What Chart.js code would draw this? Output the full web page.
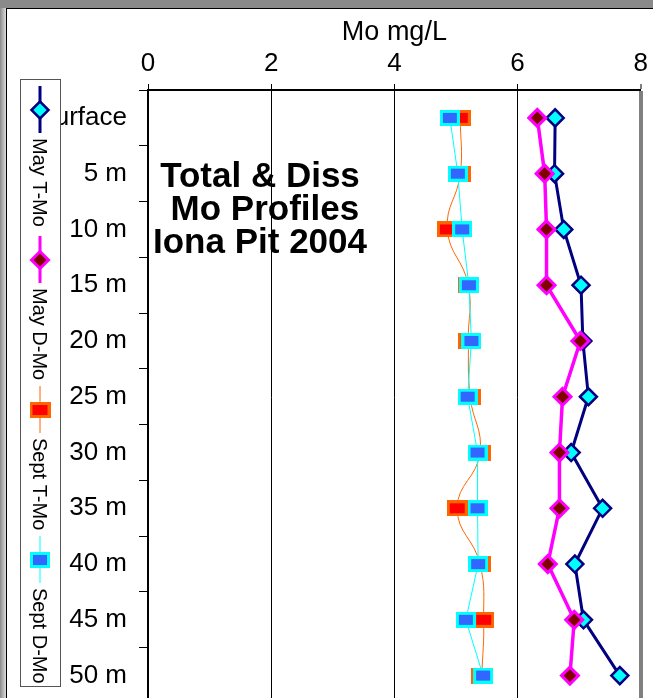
<!DOCTYPE html>
<html>
<head>
<meta charset="utf-8">
<script src="https://cdn.jsdelivr.net/npm/chart.js@4.4.0/dist/chart.umd.min.js"></script>
<style>
  html, body { margin: 0; padding: 0; width: 653px; height: 698px; overflow: hidden; background: #8a8a8a; }
  #strip { position: absolute; left: 0; top: 8px; width: 6px; height: 690px; background: linear-gradient(to right, #8a8a8a, #dcdcdc); }
  #paper { position: absolute; left: 6px; top: 8px; right: 0; bottom: 0; background: #fff; border-left: 1px solid #000; border-top: 1px solid #000; }
  canvas { position: absolute; left: 0; top: 0; }
</style>
</head>
<body>
<div id="strip"></div>
<div id="paper"></div>
<!-- plot runs a little past the bottom of the window, as in the original -->
<canvas id="chart" width="653" height="715"></canvas>
<script>
// depth categories, top to bottom
const depths = ['Surface', '5 m', '10 m', '15 m', '20 m', '25 m', '30 m', '35 m', '40 m', '45 m', '50 m'];

// Mo in mg/L
const mayTotal  = [6.61, 6.60, 6.75, 7.03, 7.06, 7.15, 6.87, 7.38, 6.93, 7.07, 7.66];
const mayDiss   = [6.32, 6.44, 6.47, 6.47, 7.02, 6.73, 6.68, 6.68, 6.49, 6.92, 6.85];
const septTotal = [5.07, 5.07, 4.86, 5.20, 5.20, 5.23, 5.39, 5.02, 5.39, 5.45, 5.42];
const septDiss  = [4.90, 5.03, 5.10, 5.21, 5.25, 5.19, 5.35, 5.35, 5.36, 5.16, 5.44];

const xTicks = [0, 2, 4, 6, 8];
const seriesNames = ['May T-Mo', 'May D-Mo', 'Sept T-Mo', 'Sept D-Mo'];
const titleLines = ['Total & Diss', ' Mo Profiles', 'Iona Pit 2004'];

const FONT = '"Liberation Sans", Arial, sans-serif';

// squares in the original are a bit wider than tall, so draw them as small bitmaps
function boxMarker(w, h, fill, edge, bw) {
  const c = document.createElement('canvas');
  c.width = w; c.height = h;
  const g = c.getContext('2d');
  g.fillStyle = edge;
  g.fillRect(0, 0, w, h);
  g.fillStyle = fill;
  g.fillRect(bw, bw, w - 2 * bw, h - 2 * bw);
  return c;
}

const septTotalMark = boxMarker(21, 16, '#ff0000', '#ff6600', 3);
const septDissMark = boxMarker(20, 16, '#3366ff', '#00ffff', 3);

function diamond(ctx, x, y, r) {
  ctx.beginPath();
  ctx.moveTo(x - r, y);
  ctx.lineTo(x, y - r);
  ctx.lineTo(x + r, y);
  ctx.lineTo(x, y + r);
  ctx.closePath();
  ctx.fill();
  ctx.stroke();
}

const sideLegend = {
  id: 'sideLegend',
  afterDraw(chart) {
    const ctx = chart.ctx;
    ctx.save();
    ctx.fillStyle = '#fff';
    ctx.fillRect(20, 79, 41, 607);
    ctx.strokeStyle = '#555';
    ctx.lineWidth = 1;
    ctx.strokeRect(20.5, 79.5, 40, 607);

    chart.data.datasets.forEach((ds, i) => {
      const top = 86 + i * 150;
      const x = 40;
      ctx.strokeStyle = ds.borderColor;
      ctx.lineWidth = Math.min(ds.borderWidth, 3);
      ctx.beginPath();
      ctx.moveTo(x, top);
      ctx.lineTo(x, top + 47);
      ctx.stroke();

      const my = top + 24;
      if (ds.pointStyle === 'rectRot') {
        ctx.fillStyle = ds.backgroundColor;
        ctx.lineWidth = ds.pointBorderWidth;
        diamond(ctx, x, my, ds.pointRadius);
      } else {
        const img = ds.pointStyle;
        ctx.drawImage(img, x - img.width / 2, my - img.height / 2);
      }

      ctx.save();
      ctx.translate(x - 1, top + 52);
      ctx.rotate(Math.PI / 2);
      ctx.fillStyle = '#000';
      ctx.font = '20px ' + FONT;
      ctx.textAlign = 'left';
      ctx.textBaseline = 'middle';
      ctx.fillText(ds.label, 0, 0);
      ctx.restore();
    });
    ctx.restore();
  }
};

const chartTitle = {
  id: 'chartTitle',
  afterDraw(chart) {
    const ctx = chart.ctx;
    ctx.save();
    ctx.fillStyle = '#000';
    ctx.font = 'bold 35px ' + FONT;
    ctx.textAlign = 'center';
    ctx.textBaseline = 'alphabetic';
    titleLines.forEach((t, i) => ctx.fillText(t, 260, 187 + i * 33));
    ctx.restore();
  }
};

new Chart(document.getElementById('chart'), {
  type: 'line',
  data: {
    labels: depths,
    datasets: [
      {
        label: seriesNames[0], data: mayTotal, order: 2,
        borderColor: '#000080', backgroundColor: '#00ffff', borderWidth: 3,
        pointStyle: 'rectRot', pointRadius: 8.5, pointHoverRadius: 8.5, pointBorderWidth: 2.5
      },
      {
        label: seriesNames[1], data: mayDiss, order: 1,
        borderColor: '#ff00ff', backgroundColor: '#800000', borderWidth: 3.5,
        pointStyle: 'rectRot', pointRadius: 8.5, pointHoverRadius: 8.5, pointBorderWidth: 3
      },
      {
        label: seriesNames[2], data: septTotal, order: 4,
        borderColor: '#ff6600', backgroundColor: '#ff0000', borderWidth: 1,
        pointStyle: septTotalMark, tension: 0.45
      },
      {
        label: seriesNames[3], data: septDiss, order: 3,
        borderColor: '#00ffff', backgroundColor: '#3366ff', borderWidth: 1,
        pointStyle: septDissMark, tension: 0
      }
    ]
  },
  options: {
    indexAxis: 'y',
    responsive: false,
    devicePixelRatio: 1,
    animation: false,
    events: [],
    layout: { padding: { left: 0, right: 10, top: 0, bottom: 0 } },
    plugins: {
      legend: { display: false },
      tooltip: { enabled: false }
    },
    scales: {
      x: {
        type: 'linear',
        position: 'top',
        min: 0,
        max: 8,
        afterBuildTicks: s => { s.ticks = xTicks.map(v => ({ value: v })); },
        afterFit: s => { s.height = 90; },
        title: {
          display: true,
          text: 'Mo mg/L',
          color: '#000',
          font: { family: FONT, size: 27 },
          padding: { top: 16, bottom: 0 }
        },
        ticks: { color: '#000', font: { family: FONT, size: 26 }, padding: 5, maxRotation: 0 },
        grid: {
          color: c => (c.tick && c.tick.value === 8 ? '#808080' : '#000'),
          lineWidth: c => (c.tick && c.tick.value === 8 ? 4 : 1),
          tickColor: '#000',
          tickWidth: 1,
          tickLength: 6
        },
        border: { color: '#000', width: 2 }
      },
      y: {
        type: 'category',
        position: 'left',
        offset: true,
        afterFit: s => { s.width = 148; s.paddingTop = 0; s.paddingBottom = 0; },
        ticks: { color: '#000', font: { family: FONT, size: 26 }, padding: 12, autoSkip: false },
        grid: { offset: true, drawOnChartArea: false, color: '#000', tickLength: 9, lineWidth: 1 },
        border: { color: '#000', width: 2 }
      }
    }
  },
  plugins: [chartTitle, sideLegend]
});
</script>
</body>
</html>
